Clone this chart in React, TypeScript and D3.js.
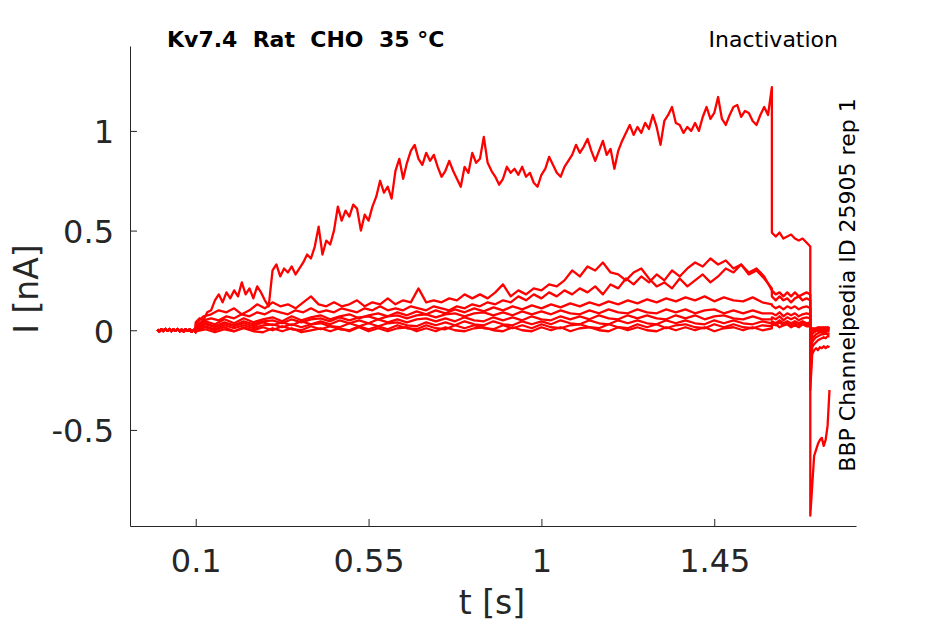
import { useEffect, useRef } from 'react';
import * as d3 from 'd3';

const WIDTH = 945;
const HEIGHT = 624;
const FONT = 'DejaVu Sans, sans-serif';
const AXIS_COLOR = '#262626';
const TRACE_COLOR = '#ff0000';

// protocol segment boundaries (s)
const T_HOLD = 0;
const T_PRE = 0.1;
const T_TEST = 1.6;
const T_TAIL = 1.7;
const T_END = 1.75;

const xTicks = [0.1, 0.55, 1, 1.45];
const yTicks = [-0.5, 0, 0.5, 1];

// holding current before the prepulse (nA)
const holding = [
  0.004, -0.006, 0.005, -0.004, 0.007, -0.003, 0.006, -0.005, 0.004, -0.002,
  0.006, -0.005, 0.003, -0.006, 0.005, -0.003, 0.004, -0.007, 0.002, -0.01,
];

// prepulse currents, 0.1 s -> 1.6 s (nA)
const prepulseA = [
  0.04, 0.06, 0.05, 0.09, 0.10, 0.15, 0.18, 0.14, 0.19, 0.16,
  0.20, 0.17, 0.24, 0.18, 0.21, 0.16, 0.22, 0.19, 0.15, 0.12,
  0.30, 0.33, 0.27, 0.31, 0.29, 0.32, 0.28, 0.31, 0.34, 0.38,
  0.36, 0.42, 0.52, 0.38, 0.45, 0.43, 0.50, 0.62, 0.55, 0.60,
  0.57, 0.63, 0.61, 0.50, 0.58, 0.55, 0.62, 0.67, 0.75, 0.69,
  0.72, 0.66, 0.80, 0.86, 0.76, 0.84, 0.90, 0.93, 0.86, 0.83,
  0.89, 0.85, 0.88, 0.82, 0.77, 0.80, 0.85, 0.80, 0.76, 0.72,
  0.82, 0.79, 0.89, 0.84, 0.86, 0.97, 0.84, 0.80, 0.77, 0.73,
  0.76, 0.82, 0.79, 0.81, 0.78, 0.82, 0.77, 0.79, 0.74, 0.72,
  0.78, 0.81, 0.87, 0.83, 0.79, 0.77, 0.82, 0.85, 0.88, 0.93,
  0.89, 0.92, 0.96, 0.90, 0.85, 0.90, 0.95, 0.88, 0.91, 0.81,
  0.90, 0.95, 0.99, 1.03, 0.98, 1.02, 0.99, 1.04, 1.01, 1.08,
  1.02, 0.93, 1.05, 1.08, 1.12, 1.04, 1.03, 0.99, 1.02, 1.00,
  1.04, 1.00, 1.07, 1.12, 1.06, 1.09, 1.17, 1.06, 1.03, 1.08,
  1.12, 1.13, 1.07, 1.10, 1.09, 1.05, 1.03, 1.08, 1.12, 1.08,
  1.22,
];
const prepulseB = [
  0.03, 0.07, 0.08, 0.10, 0.09, 0.11, 0.08, 0.10, 0.13, 0.11,
  0.14, 0.12, 0.13, 0.11, 0.14, 0.17, 0.13, 0.12, 0.14, 0.12,
  0.13, 0.15, 0.12, 0.14, 0.13, 0.16, 0.13, 0.15, 0.14, 0.21,
  0.14, 0.15, 0.14, 0.16, 0.15, 0.18, 0.16, 0.18, 0.16, 0.19,
  0.23, 0.17, 0.20, 0.18, 0.21, 0.20, 0.23, 0.22, 0.25, 0.30,
  0.27, 0.32, 0.30, 0.34, 0.29, 0.28, 0.25, 0.29, 0.31, 0.26,
  0.22, 0.24, 0.21, 0.26, 0.22, 0.25, 0.28, 0.24, 0.27, 0.31,
  0.29, 0.33, 0.28, 0.30, 0.26, 0.21,
];
const prepulseC = [
  0.02, 0.05, 0.06, 0.05, 0.07, 0.06, 0.08, 0.07, 0.09, 0.08,
  0.10, 0.09, 0.08, 0.10, 0.09, 0.11, 0.09, 0.10, 0.09, 0.11,
  0.10, 0.09, 0.11, 0.10, 0.12, 0.10, 0.11, 0.10, 0.12, 0.11,
  0.10, 0.12, 0.11, 0.10, 0.12, 0.11, 0.13, 0.12, 0.14, 0.13,
  0.15, 0.14, 0.17, 0.15, 0.18, 0.16, 0.19, 0.17, 0.20, 0.18,
  0.21, 0.19, 0.22, 0.18, 0.23, 0.21, 0.26, 0.23, 0.27, 0.24,
  0.28, 0.25, 0.30, 0.27, 0.31, 0.34, 0.32, 0.36, 0.33, 0.35,
  0.31, 0.33, 0.29, 0.31, 0.27, 0.20,
];
const prepulseD = [
  0.02, 0.045, 0.03, 0.055, 0.035, 0.06, 0.04, 0.055, 0.065, 0.045,
  0.07, 0.05, 0.065, 0.075, 0.055, 0.07, 0.08, 0.06, 0.075, 0.085,
  0.07, 0.09, 0.075, 0.095, 0.08, 0.10, 0.085, 0.105, 0.09, 0.11,
  0.095, 0.115, 0.10, 0.12, 0.105, 0.125, 0.11, 0.13, 0.115, 0.135,
  0.12, 0.14, 0.125, 0.145, 0.13, 0.15, 0.135, 0.155, 0.14, 0.16,
  0.145, 0.165, 0.15, 0.17, 0.145, 0.165, 0.15, 0.145, 0.165, 0.14,
  0.13,
];
const prepulseE = [
  0.015, 0.035, 0.02, 0.04, 0.025, 0.045, 0.03, 0.045, 0.05, 0.035,
  0.055, 0.04, 0.055, 0.06, 0.045, 0.065, 0.05, 0.065, 0.07, 0.055,
  0.07, 0.075, 0.06, 0.075, 0.08, 0.065, 0.08, 0.085, 0.07, 0.085,
  0.09, 0.075, 0.09, 0.075, 0.095, 0.08, 0.095, 0.08, 0.10, 0.085,
  0.08, 0.10, 0.085, 0.105, 0.09, 0.085, 0.105, 0.09, 0.085, 0.105,
  0.09, 0.105, 0.085, 0.10, 0.105, 0.085, 0.10, 0.085, 0.10, 0.085,
  0.085,
];
const prepulseF = [
  0.01, 0.03, 0.015, 0.035, 0.02, 0.035, 0.02, 0.04, 0.025, 0.04,
  0.025, 0.045, 0.03, 0.045, 0.03, 0.05, 0.035, 0.05, 0.035, 0.055,
  0.04, 0.055, 0.04, 0.055, 0.06, 0.045, 0.06, 0.045, 0.065, 0.05,
  0.045, 0.065, 0.05, 0.065, 0.05, 0.07, 0.055, 0.05, 0.07, 0.055,
  0.07, 0.055, 0.075, 0.06, 0.055, 0.075, 0.06, 0.075, 0.06, 0.055,
  0.075, 0.06, 0.075, 0.055, 0.07, 0.075, 0.06, 0.055, 0.07, 0.055,
  0.055,
];
const prepulseG = [
  0.005, 0.02, 0.005, 0.025, 0.01, 0.025, 0.01, 0.025, 0.03, 0.015,
  0.03, 0.015, 0.03, 0.035, 0.02, 0.015, 0.035, 0.02, 0.035, 0.02,
  0.035, 0.04, 0.025, 0.02, 0.04, 0.025, 0.04, 0.025, 0.045, 0.03,
  0.025, 0.045, 0.03, 0.025, 0.045, 0.03, 0.045, 0.03, 0.05, 0.035,
  0.03, 0.05, 0.035, 0.03, 0.05, 0.035, 0.05, 0.035, 0.03, 0.05,
  0.035, 0.05, 0.035, 0.03, 0.05, 0.035, 0.05, 0.035, 0.03, 0.045,
  0.035,
];
const prepulseH = [
  0.0, 0.015, 0.0, 0.015, -0.005, 0.015, 0.0, 0.015, 0.0, 0.02,
  0.005, 0.0, 0.02, 0.005, 0.02, 0.005, 0.0, 0.02, 0.005, 0.02,
  0.005, 0.025, 0.01, 0.005, 0.025, 0.01, 0.005, 0.025, 0.01, 0.025,
  0.01, 0.005, 0.025, 0.01, 0.025, 0.01, 0.03, 0.015, 0.01, 0.025,
  0.03, 0.015, 0.01, 0.03, 0.015, 0.01, 0.03, 0.015, 0.03, 0.01,
  0.025, 0.03, 0.015, 0.01, 0.03, 0.015, 0.03, 0.015, 0.01, 0.025,
  0.02,
];
const prepulseI = [
  -0.005, 0.005, -0.01, 0.005, -0.005, 0.01, -0.005, -0.01, 0.01, -0.005,
  0.01, -0.01, 0.0, 0.01, -0.005, 0.01, -0.005, 0.015, -0.005, 0.01,
  -0.005, 0.01, 0.015, -0.005, 0.01, -0.005, 0.015, 0.0, -0.005, 0.01,
  0.015, 0.0, -0.005, 0.015, 0.0, -0.005, 0.015, 0.0, 0.015, -0.005,
  0.01, 0.015, 0.0, -0.005, 0.015, 0.0, 0.015, 0.0, -0.005, 0.015,
  0.0, 0.015, 0.0, 0.015, -0.005, 0.01, 0.015, 0.0, 0.015, 0.0,
  0.01,
];

// test pulse, 1.6 s -> 1.7 s (nA)
const testA = [0.49, 0.47, 0.49, 0.46, 0.47, 0.48, 0.46, 0.45, 0.46, 0.44, 0.42];
const testB = [0.20, 0.18, 0.19, 0.17, 0.19, 0.17, 0.19, 0.17, 0.18, 0.19, 0.18];
const testC = [0.17, 0.15, 0.17, 0.15, 0.16, 0.14, 0.16, 0.17, 0.15, 0.16, 0.15];
const testD = [0.125, 0.11, 0.12, 0.105, 0.12, 0.11, 0.12, 0.105, 0.115, 0.12, 0.11];
const testE = [0.085, 0.075, 0.09, 0.07, 0.085, 0.075, 0.085, 0.07, 0.08, 0.085, 0.08];
const testF = [0.065, 0.055, 0.07, 0.05, 0.065, 0.055, 0.065, 0.05, 0.06, 0.065, 0.06];
const testG = [0.045, 0.035, 0.05, 0.035, 0.045, 0.035, 0.045, 0.035, 0.045, 0.035, 0.04];
const testH = [0.035, 0.025, 0.04, 0.025, 0.035, 0.025, 0.035, 0.025, 0.035, 0.025, 0.03];
const testI = [0.025, 0.03, 0.015, 0.025, 0.03, 0.015, 0.025, 0.015, 0.03, 0.02, 0.02];

// tail currents, 1.7 s -> 1.75 s (nA)
const tailA = [-0.93, -0.78, -0.63, -0.6, -0.57, -0.55, -0.54, -0.58, -0.55, -0.48, -0.3];
const tailB = [-0.3, -0.12, -0.1, -0.09, -0.1, -0.085, -0.09, -0.08, -0.09, -0.08, -0.085];
const tailC = [-0.25, -0.085, -0.07, -0.06, -0.05, -0.045, -0.04, -0.035, -0.04, -0.03, -0.03];
const tailD = [-0.2, -0.06, -0.045, -0.035, -0.03, -0.025, -0.02, -0.02, -0.015, -0.02, -0.015];
const tailE = [-0.15, -0.04, -0.03, -0.02, -0.015, -0.01, -0.01, -0.005, -0.01, -0.005, -0.005];
const tailF = [-0.12, -0.02, -0.01, -0.005, 0.0, -0.005, 0.0, 0.005, 0.0, 0.0, 0.005];
const tailG = [-0.1, -0.005, 0.0, 0.005, 0.0, 0.005, 0.01, 0.005, 0.01, 0.005, 0.01];
const tailH = [-0.08, 0.005, 0.01, 0.005, 0.01, 0.015, 0.01, 0.015, 0.01, 0.015, 0.01];
const tailI = [-0.06, 0.01, 0.005, 0.01, 0.015, 0.01, 0.015, 0.01, 0.015, 0.01, 0.015];

const sweeps = [
  { pre: prepulseI, test: testI, tail: tailI },
  { pre: prepulseH, test: testH, tail: tailH },
  { pre: prepulseG, test: testG, tail: tailG },
  { pre: prepulseF, test: testF, tail: tailF },
  { pre: prepulseE, test: testE, tail: tailE },
  { pre: prepulseD, test: testD, tail: tailD },
  { pre: prepulseC, test: testC, tail: tailC },
  { pre: prepulseB, test: testB, tail: tailB },
  { pre: prepulseA, test: testA, tail: tailA },
];

// spread the samples of one segment evenly over its time span
const segment = (values: number[], t0: number, t1: number): [number, number][] =>
  values.map((v, i) => [t0 + (i * (t1 - t0)) / (values.length - 1), v]);

export default function App() {
  const xAxisRef = useRef<SVGGElement>(null);
  const yAxisRef = useRef<SVGGElement>(null);

  const x = d3.scaleLinear().domain([-0.0711, 1.819]).range([130, 856]);
  const y = d3.scaleLinear().domain([-0.982, 1.426]).range([526, 46]);

  const line = d3.line<[number, number]>()
    .x(d => x(d[0]))
    .y(d => y(d[1]));

  useEffect(() => {
    const gx = d3.select(xAxisRef.current!);
    gx.call(d3.axisBottom(x)
      .tickValues(xTicks)
      .tickFormat(d => String(d))
      .tickSizeInner(-7)
      .tickSizeOuter(0)
      .tickPadding(23));

    const gy = d3.select(yAxisRef.current!);
    gy.call(d3.axisLeft(y)
      .tickValues(yTicks)
      .tickFormat(d => String(d))
      .tickSizeInner(-7)
      .tickSizeOuter(0)
      .tickPadding(16));

    [gx, gy].forEach(g => {
      g.attr('color', AXIS_COLOR);
      g.selectAll('.tick text')
        .attr('font-size', 32)
        .attr('font-family', FONT)
        .attr('fill', AXIS_COLOR);
    });
    gy.selectAll('.tick text').attr('dy', '0.375em');
  }, []);

  return (
    <svg
      width={WIDTH}
      height={HEIGHT}
      style={{ position: 'absolute', left: 0, top: 0, background: '#fff' }}
      fontFamily={FONT}
    >
      <g>
        {sweeps.map((s, i) => {
          const pts = [
            ...segment(holding, T_HOLD, T_PRE),
            ...segment(s.pre, T_PRE, T_TEST),
            ...segment(s.test, T_TEST, T_TAIL),
            ...segment(s.tail, T_TAIL, T_END),
          ];
          return (
            <path
              key={i}
              d={line(pts) ?? ''}
              fill="none"
              stroke={TRACE_COLOR}
              strokeWidth={2.3}
              strokeLinejoin="round"
            />
          );
        })}
      </g>

      <g ref={xAxisRef} transform="translate(0,526)" />
      <g ref={yAxisRef} transform="translate(130,0)" />

      <text x={492} y={614} textAnchor="middle" fontSize={33} fill={AXIS_COLOR}>t [s]</text>
      <text transform="translate(38,289) rotate(-90)" textAnchor="middle" fontSize={33} fill={AXIS_COLOR}>
        I [nA]
      </text>

      <text x={167} y={47} fontSize={22} fontWeight="bold" fill="#000" style={{ whiteSpace: 'pre' }}>
        Kv7.4  Rat  CHO  35 °C
      </text>
      <text x={838} y={47} fontSize={22} textAnchor="end" fill="#000">Inactivation</text>
      <text transform="translate(855,285) rotate(-90)" textAnchor="middle" fontSize={22} fill="#000">
        BBP Channelpedia ID 25905 rep 1
      </text>
    </svg>
  );
}
